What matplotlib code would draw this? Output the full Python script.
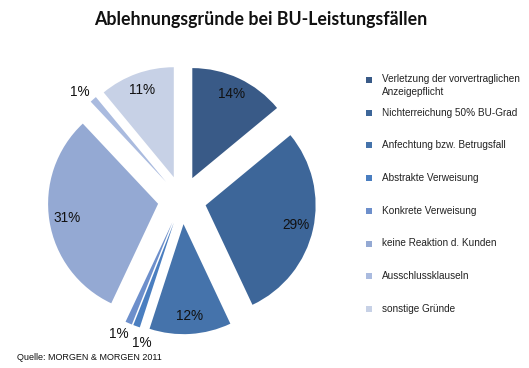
import numpy as np
import matplotlib
matplotlib.use("Agg")
import matplotlib.pyplot as plt
from matplotlib import font_manager

categories = [
    "Verletzung der vorvertraglichen\nAnzeigepflicht",
    "Nichterreichung 50% BU-Grad",
    "Anfechtung bzw. Betrugsfall",
    "Abstrakte Verweisung",
    "Konkrete Verweisung",
    "keine Reaktion d. Kunden",
    "Ausschlussklauseln",
    "sonstige Gründe",
]
values = [14, 29, 12, 1, 1, 31, 1, 11]
colors = ["#395a87", "#3d6699", "#4573ab", "#4a7ec0", "#6d8fcb", "#94a9d3", "#aabbdf", "#c7d1e6"]
title = "Ablehnungsgründe bei BU-Leistungsfällen"
source = "Quelle: MORGEN & MORGEN 2011"

names = {f.name for f in font_manager.fontManager.ttflist}
legend_family = "Liberation Sans Narrow" if "Liberation Sans Narrow" in names else "Liberation Sans"
legend_size = 8.6 if legend_family == "Liberation Sans Narrow" else 7.2

W, H = 529, 368
fig = plt.figure(figsize=(W / 100, H / 100), dpi=100)
fig.patch.set_facecolor("white")

# pie axes: center (182, 200) px, radius 110 px
cx, cy, r_px = 182, 200, 110
half = 1.35
ax = fig.add_axes([(cx - half * r_px) / W, (H - cy - half * r_px) / H,
                   2 * half * r_px / W, 2 * half * r_px / H])
explode = [0.22] * len(values)
wedges, texts, autotexts = ax.pie(
    values, colors=colors, startangle=90, counterclock=False,
    explode=explode, autopct="%d%%", pctdistance=0.84,
    wedgeprops=dict(linewidth=0),
    textprops=dict(family="Liberation Sans", fontsize=9.8, color="#111111"),
)
ax.set_xlim(-half, half)
ax.set_ylim(-half, half)
ax.set_aspect("equal")
ax.axis("off")

# small slices: labels outside, nudged apart like the original
label_shift = [0, 0, 0, 5, -2, 0, 2.5, 0]
for w, t, v, sh in zip(wedges, autotexts, values, label_shift):
    if v <= 1:
        ang = np.deg2rad((w.theta1 + w.theta2) / 2 + sh)
        x0, y0 = w.center
        t.set_position((x0 + 1.13 * np.cos(ang), y0 + 1.13 * np.sin(ang)))

# title
fig.text(261 / W, 1 - 19 / H, title, ha="center", va="center",
         family="Lato", fontweight="bold", fontsize=12.8, color="#111111")

# legend (manual)
lax = fig.add_axes([0, 0, 1, 1])
lax.set_xlim(0, W)
lax.set_ylim(H, 0)
lax.axis("off")
y0, dy = 80, 32.7
for i, (lab, col) in enumerate(zip(categories, colors)):
    y = y0 + i * dy
    lax.scatter([369], [y], marker="s", s=22, color=col, linewidths=0)
    if "\n" in lab:
        lax.text(382, y - 6.5, lab, ha="left", va="top",
                 family=legend_family, fontsize=legend_size, color="#222222",
                 linespacing=1.4)
    else:
        lax.text(382, y, lab, ha="left", va="center",
                 family=legend_family, fontsize=legend_size, color="#222222")

fig.text(17 / W, 1 - 357 / H, source, ha="left", va="center",
         family="Liberation Sans", fontsize=6.5, color="#111111")

fig.savefig("out.png", dpi=100, facecolor="white")
